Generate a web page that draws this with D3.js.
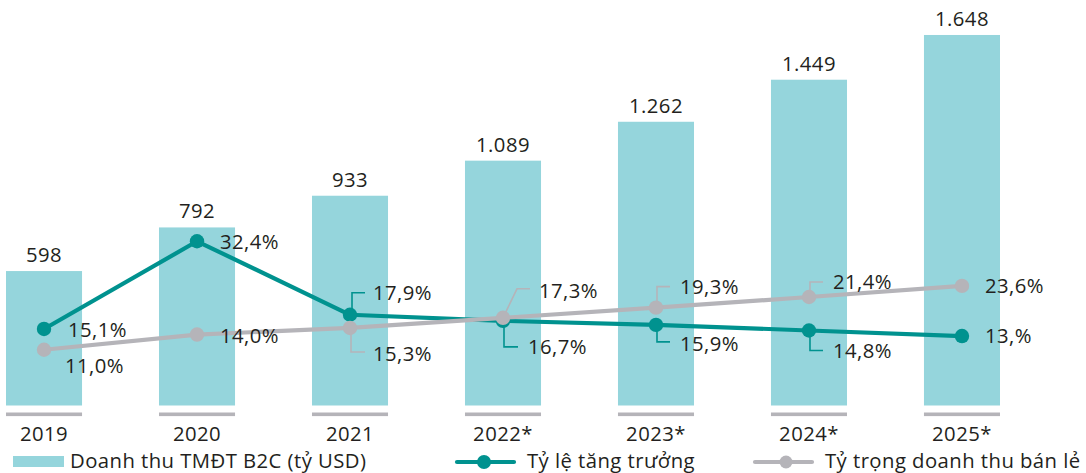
<!DOCTYPE html>
<html>
<head>
<meta charset="utf-8">
<script src="https://cdn.jsdelivr.net/npm/d3@7/dist/d3.min.js"></script>
<style>
  html, body { margin: 0; padding: 0; background: #fff; }
  svg { display: block; font-family: "Open Sans", "Noto Sans", sans-serif; }
  svg text { letter-spacing: 0.45px; }
</style>
</head>
<body>
<svg id="chart" width="1086" height="473"></svg>
<script>
// ---- data ----
const years = ["2019", "2020", "2021", "2022*", "2023*", "2024*", "2025*"];
const revenue = [598, 792, 933, 1089, 1262, 1449, 1648];
const revenueLabels = ["598", "792", "933", "1.089", "1.262", "1.449", "1.648"];
const growth = [15.1, 32.4, 17.9, 16.7, 15.9, 14.8, 13.7];
const growthLabels = ["15,1%", "32,4%", "17,9%", "16,7%", "15,9%", "14,8%", "13,%"];
const share = [11.0, 14.0, 15.3, 17.3, 19.3, 21.4, 23.6];
const shareLabels = ["11,0%", "14,0%", "15,3%", "17,3%", "19,3%", "21,4%", "23,6%"];
const legendNames = ["Doanh thu TMĐT B2C (tỷ USD)", "Tỷ lệ tăng trưởng", "Tỷ trọng doanh thu bán lẻ"];

// ---- styles / placement ----
const C_BAR = "#95d5dc", C_TEAL = "#00928f", C_GRAY = "#b5b4b9", C_TEXT = "#231f20";
const FS = 20.3;

const growthPlace = [
  {dx: 24, dy: 8},
  {dx: 23, dy: 8},
  {dx: 23, dy: -15, leader: [[2, 0], [2, -22], [15, -22]]},
  {dx: 25, dy: 33, leader: [[1, 0], [1, 26], [15, 26]]},
  {dx: 24, dy: 26, leader: [[1, 0], [1, 17], [14, 17]]},
  {dx: 24, dy: 28, leader: [[1, 0], [1, 20], [14, 20]]},
  {dx: 23, dy: 7}
];
const sharePlace = [
  {dx: 21, dy: 23},
  {dx: 23, dy: 8},
  {dx: 23, dy: 33, leader: [[1, 0], [1, 24], [15, 24]]},
  {dx: 36, dy: -20, leader: [[0, 0], [14, -29], [27, -29]]},
  {dx: 24, dy: -14, leader: [[1, 0], [1, -21], [14, -21]]},
  {dx: 24, dy: -8, leader: [[1, 0], [1, -15], [14, -15]]},
  {dx: 23, dy: 7}
];

const svg = d3.select("#chart");

const x = d3.scaleBand().domain(years).range([6, 1000]).paddingInner(0.503).paddingOuter(0);
const y = d3.scaleLinear().domain([0, 1800]).range([405.5, 0.8]);
const yp = d3.scaleLinear().domain([0, 80]).range([405.5, 0]);
const cx = i => x(years[i]) + x.bandwidth() / 2;

// bars
svg.append("g").selectAll("rect").data(revenue).join("rect")
  .attr("x", (d, i) => x(years[i]))
  .attr("y", d => y(d))
  .attr("width", x.bandwidth())
  .attr("height", d => y(0) - y(d))
  .attr("fill", C_BAR);

// gray strips under bars
svg.append("g").selectAll("rect").data(years).join("rect")
  .attr("x", d => x(d))
  .attr("y", y(0) + 7)
  .attr("width", x.bandwidth())
  .attr("height", 3.6)
  .attr("fill", C_GRAY);

// bar value labels
svg.append("g").selectAll("text").data(revenue).join("text")
  .attr("x", (d, i) => cx(i))
  .attr("y", d => y(d) - 9)
  .attr("text-anchor", "middle")
  .attr("font-size", FS)
  .attr("fill", C_TEXT)
  .text((d, i) => revenueLabels[i]);

// x axis labels
const xAxis = d3.axisBottom(x).tickSize(0).tickPadding(0);
const gx = svg.append("g").attr("transform", "translate(0,441)").call(xAxis);
gx.select(".domain").remove();
gx.selectAll("text")
  .attr("dy", 0).attr("y", 0)
  .attr("font-size", FS)
  .attr("font-family", "\"Open Sans\", \"Noto Sans\", sans-serif")
  .attr("fill", C_TEXT);

const line = d3.line().x((d, i) => cx(i)).y(d => yp(d));

function drawSeries(vals, place, color) {
  const g = svg.append("g");
  g.append("path").datum(vals)
    .attr("d", line)
    .attr("fill", "none")
    .attr("stroke", color)
    .attr("stroke-width", 4.2)
    .attr("stroke-linejoin", "round");
  vals.forEach((v, i) => {
    const p = place[i];
    if (p.leader) {
      const px = cx(i), py = yp(v);
      g.append("path")
        .attr("d", d3.line()(p.leader.map(q => [px + q[0], py + q[1]])))
        .attr("fill", "none")
        .attr("stroke", color)
        .attr("stroke-width", 1.6);
    }
  });
  g.selectAll("circle").data(vals).join("circle")
    .attr("cx", (d, i) => cx(i))
    .attr("cy", d => yp(d))
    .attr("r", 7.2)
    .attr("fill", color);
}
function drawLabels(vals, labels, place) {
  svg.append("g").selectAll("text").data(vals).join("text")
    .attr("x", (d, i) => cx(i) + place[i].dx)
    .attr("y", (d, i) => yp(d) + place[i].dy)
    .attr("font-size", FS)
    .attr("fill", C_TEXT)
    .text((d, i) => labels[i]);
}

drawSeries(growth, growthPlace, C_TEAL);
drawSeries(share, sharePlace, C_GRAY);
drawLabels(growth, growthLabels, growthPlace);
drawLabels(share, shareLabels, sharePlace);

// legend
const lg = svg.append("g");
lg.append("rect").attr("x", 13).attr("y", 456).attr("width", 51).attr("height", 11).attr("fill", C_BAR);
lg.append("text").attr("x", 70).attr("y", 468).attr("font-size", FS).attr("fill", C_TEXT).text(legendNames[0]);

lg.append("line").attr("x1", 457).attr("x2", 514).attr("y1", 462).attr("y2", 462)
  .attr("stroke", C_TEAL).attr("stroke-width", 4.2).attr("stroke-linecap", "round");
lg.append("circle").attr("cx", 484).attr("cy", 462).attr("r", 7).attr("fill", C_TEAL);
lg.append("text").attr("x", 527).attr("y", 468).attr("font-size", FS).attr("fill", C_TEXT).text(legendNames[1]);

lg.append("line").attr("x1", 755).attr("x2", 812).attr("y1", 462).attr("y2", 462)
  .attr("stroke", C_GRAY).attr("stroke-width", 4.2).attr("stroke-linecap", "round");
lg.append("circle").attr("cx", 786).attr("cy", 462).attr("r", 6.5).attr("fill", C_GRAY);
lg.append("text").attr("x", 825).attr("y", 468).attr("font-size", FS).attr("fill", C_TEXT).text(legendNames[2]);
</script>
</body>
</html>
